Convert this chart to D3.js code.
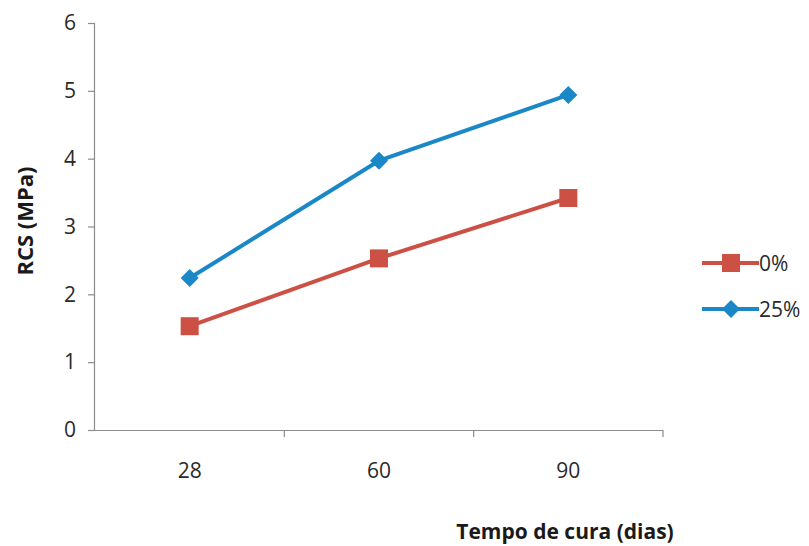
<!DOCTYPE html>
<html><head><meta charset="utf-8">
<script src="https://cdn.jsdelivr.net/npm/d3@7"></script>
<style>body{margin:0;background:#fff;} svg{display:block;}</style>
</head><body>
<svg id="c" width="809" height="546"></svg>
<script>
const categories = ["28", "60", "90"];
const seriesNames = ["0%", "25%"];
const values0 = [1.53, 2.53, 3.42];
const values25 = [2.24, 3.97, 4.94];
const yTicks = [0, 1, 2, 3, 4, 5, 6];
const colors = ["#cd5045", "#1a87c7"];

(function () {
const svg = d3.select("#c");
const mLeft = 95, mRight = 663, mTop = 23, mBottom = 430;
const x = d3.scaleBand().domain(categories).range([mLeft, mRight]).padding(0);
const y = d3.scaleLinear().domain([0, 6]).range([mBottom, mTop]);
const font = "'Open Sans', 'Liberation Sans', sans-serif";
const axisCol = "#8c8c8c";

// y axis
const ya = svg.append("g").attr("transform", `translate(${mLeft},0)`)
  .call(d3.axisLeft(y).tickValues(yTicks).tickSize(7).tickPadding(12).tickFormat(d3.format("d")));
ya.select(".domain").attr("stroke", axisCol).attr("stroke-width", 1.2).attr("d", `M-0.5,${mBottom}V${mTop}`);
ya.selectAll(".tick line").attr("stroke", axisCol).attr("stroke-width", 1.2);
ya.selectAll(".tick text").attr("font-family", font).attr("font-size", 21).attr("fill", "#2a2a2a");

// x axis
const xa = svg.append("g").attr("transform", `translate(0,${mBottom})`)
  .call(d3.axisBottom(x).tickSize(0).tickPadding(33));
xa.select(".domain").attr("stroke", axisCol).attr("stroke-width", 1.2).attr("d", `M${mLeft},0.5H${mRight}`);
xa.selectAll(".tick text").attr("font-family", font).attr("font-size", 21).attr("fill", "#2a2a2a");
const bounds = categories.map(c => x(c) + x.bandwidth());
xa.selectAll(".bt").data(bounds).join("line").attr("class", "bt")
  .attr("x1", d => d).attr("x2", d => d).attr("y1", 0).attr("y2", 7)
  .attr("stroke", axisCol).attr("stroke-width", 1.2);

// titles
svg.append("text").attr("transform", "translate(33,221) rotate(-90)")
  .attr("text-anchor", "middle").attr("font-family", font).attr("font-weight", "bold")
  .attr("font-size", 22).attr("fill", "#1a1a1a").text("RCS (MPa)");
svg.append("text").attr("x", 565).attr("y", 539)
  .attr("text-anchor", "middle").attr("font-family", font).attr("font-weight", "bold")
  .attr("font-size", 21).attr("fill", "#1a1a1a").text("Tempo de cura (dias)");

const series = [values0, values25];
const line = d3.line().x((d, i) => x(categories[i]) + x.bandwidth() / 2).y(d => y(d));
const sqr = "M-9,-9H9V9H-9Z";
const dia = "M0,-9L9,0L0,9L-9,0Z";

series.forEach((vals, si) => {
  svg.append("path").datum(vals).attr("d", line).attr("fill", "none")
    .attr("stroke", colors[si]).attr("stroke-width", 4).attr("stroke-linejoin", "round");
  svg.selectAll(".m" + si).data(vals).join("path").attr("class", "m" + si)
    .attr("transform", (d, i) => `translate(${x(categories[i]) + x.bandwidth() / 2},${y(d)})`)
    .attr("d", si === 0 ? sqr : dia).attr("fill", colors[si]);
});

// legend
const ly = [263, 309];
seriesNames.forEach((n, i) => {
  const g = svg.append("g").attr("transform", `translate(0,${ly[i]})`);
  g.append("line").attr("x1", 702).attr("x2", 759).attr("y1", 0).attr("y2", 0)
    .attr("stroke", colors[i]).attr("stroke-width", 4);
  g.append("path").attr("transform", "translate(731,0)").attr("d", i === 0 ? sqr : dia).attr("fill", colors[i]);
  g.append("text").attr("x", 759).attr("y", 0).attr("dy", "0.36em")
    .attr("font-family", font).attr("font-size", 21).attr("fill", "#2a2a2a").text(n);
});
})();
</script>
</body></html>
